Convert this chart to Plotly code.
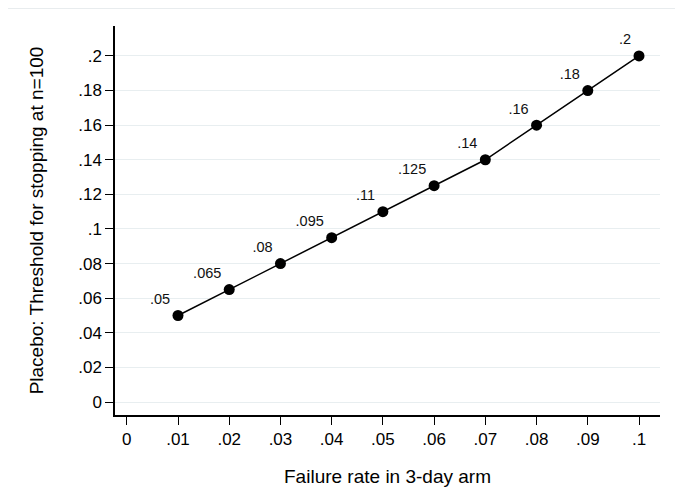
import plotly.graph_objects as go

failure_rate = [0.01, 0.02, 0.03, 0.04, 0.05, 0.06, 0.07, 0.08, 0.09, 0.10]
threshold = [0.05, 0.065, 0.08, 0.095, 0.11, 0.125, 0.14, 0.16, 0.18, 0.2]
point_labels = [".05", ".065", ".08", ".095", ".11", ".125", ".14", ".16", ".18", ".2"]

x_ticks = [0, 0.01, 0.02, 0.03, 0.04, 0.05, 0.06, 0.07, 0.08, 0.09, 0.1]
x_ticklabels = ["0", ".01", ".02", ".03", ".04", ".05", ".06", ".07", ".08", ".09", ".1"]
y_ticks = [0, 0.02, 0.04, 0.06, 0.08, 0.1, 0.12, 0.14, 0.16, 0.18, 0.2]
y_ticklabels = ["0", ".02", ".04", ".06", ".08", ".1", ".12", ".14", ".16", ".18", ".2"]

fig = go.Figure()
fig.add_trace(go.Scatter(
    x=failure_rate, y=threshold, mode="lines+markers+text",
    text=point_labels, textposition="top left",
    textfont=dict(size=14.5, color="#111", family="Liberation Sans, Arial"),
    line=dict(color="black", width=1.5),
    marker=dict(color="black", size=11),
    showlegend=False,
))

fig.update_layout(
    width=675, height=496,
    margin=dict(l=107, r=23, t=18, b=89),
    paper_bgcolor="white", plot_bgcolor="white",
    font=dict(family="Liberation Sans, Arial", size=15.5, color="black"),
    xaxis=dict(
        range=[-0.0023, 0.1041], tickvals=x_ticks, ticktext=x_ticklabels,
        showgrid=False, zeroline=False, showline=True, linecolor="black", linewidth=1.5,
        ticks="outside", ticklen=8, tickcolor="black", tickwidth=1,
        tickfont=dict(size=17),
        title=dict(text="Failure rate in 3-day arm", standoff=22),
    ),
    yaxis=dict(
        range=[-0.0075, 0.2173], tickvals=y_ticks, ticktext=y_ticklabels,
        showgrid=True, gridcolor="#e8eef0", gridwidth=1, zeroline=False,
        showline=True, linecolor="black", linewidth=1.5,
        ticks="outside", ticklen=8, tickcolor="black", tickwidth=1,
        tickfont=dict(size=17),
        title=dict(text="Placebo: Threshold for stopping at n=100", standoff=30),
    ),
    shapes=[dict(type="line", xref="paper", yref="paper", x0=-0.3, x1=1.1,
                 y0=1 + 17.5/389, y1=1 + 17.5/389, line=dict(color="#e8ecee", width=1))],
)

fig.write_html("out.html")
